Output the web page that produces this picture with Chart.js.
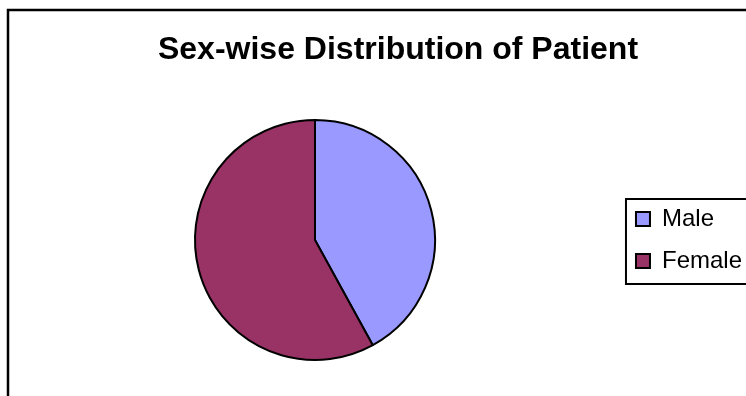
<!DOCTYPE html>
<html>
<head>
<meta charset="utf-8">
<script src="https://cdn.jsdelivr.net/npm/chart.js@4.4.1/dist/chart.umd.min.js"></script>
<style>
  html, body { margin: 0; padding: 0; background: #fff; overflow: hidden; }
  #wrap { width: 760px; height: 396px; }
</style>
</head>
<body>
<div id="wrap"><canvas id="pie" width="760" height="396"></canvas></div>
<script>
// Patients by sex (percent)
const labels = ['Male', 'Female'];
const patients = [42, 58];
const sliceColors = ['#9999FF', '#993366'];
const chartTitle = 'Sex-wise Distribution of Patient';

const FONT = '"Liberation Sans", Arial, sans-serif';

// outer frame (only top and left edges fall inside the page) and the title,
// which is centred on the whole frame rather than on the pie
const framePlugin = {
    id: 'frame',
    beforeDraw(chart) {
        const c = chart.ctx;
        c.save();
        c.fillStyle = '#fff';
        c.fillRect(0, 0, chart.width, chart.height);
        c.strokeStyle = '#000';
        c.lineWidth = 2.5;
        c.beginPath();
        c.moveTo(8, chart.height + 5);
        c.lineTo(8, 10);
        c.lineTo(chart.width + 5, 10);
        c.stroke();

        c.fillStyle = '#000';
        c.font = 'bold 32px ' + FONT;
        c.textAlign = 'center';
        c.textBaseline = 'middle';
        c.fillText(chartTitle, 398, 50);
        c.restore();
    }
};

// box around the legend items
const legendBox = {
    id: 'legendBox',
    afterDraw(chart) {
        const boxes = chart.legend.legendHitBoxes;
        if (!boxes || !boxes.length) return;
        const first = boxes[0];
        const last = boxes[boxes.length - 1];
        const c = chart.ctx;
        c.save();
        c.strokeStyle = '#000';
        c.lineWidth = 2;
        c.strokeRect(first.left - 10, first.top - 8, chart.width, last.top + last.height - first.top + 19);
        c.restore();
    }
};

const ctx = document.getElementById('pie').getContext('2d');
new Chart(ctx, {
    type: 'pie',
    data: {
        labels: labels,
        datasets: [{
            data: patients,
            backgroundColor: sliceColors,
            borderColor: '#000',
            borderWidth: 2
        }]
    },
    options: {
        responsive: false,
        animation: false,
        radius: 120,
        layout: { padding: { left: 12, right: 8, top: 84, bottom: 0 } },
        plugins: {
            legend: {
                position: 'right',
                labels: {
                    color: '#000',
                    font: { family: FONT, size: 24 },
                    boxWidth: 14,
                    boxHeight: 14,
                    padding: 18
                }
            },
            tooltip: { enabled: false }
        }
    },
    plugins: [framePlugin, legendBox]
});
</script>
</body>
</html>
